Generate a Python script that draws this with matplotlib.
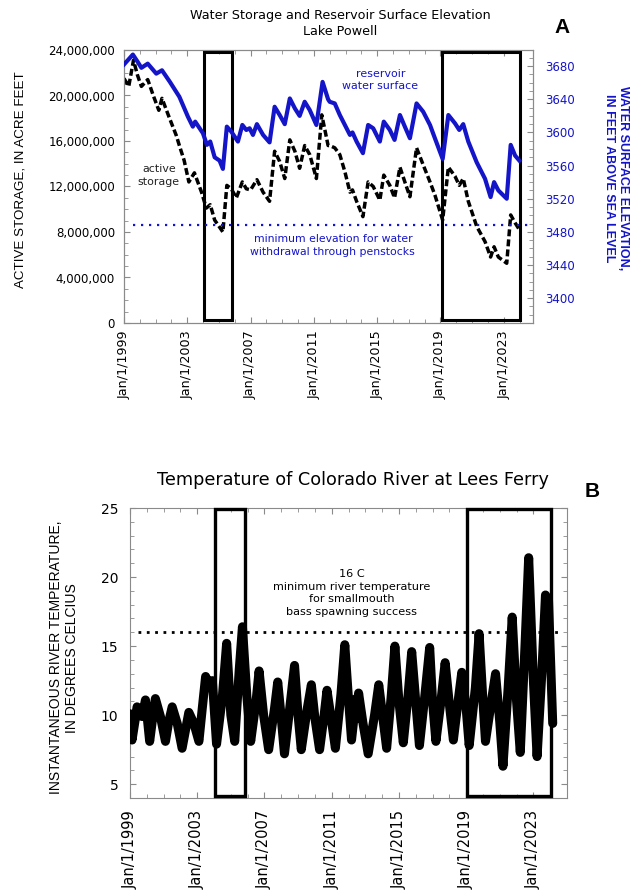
import matplotlib
matplotlib.use("Agg")
import matplotlib.pyplot as plt
import matplotlib.transforms as mtransforms
from matplotlib.patches import Rectangle
from matplotlib.ticker import MultipleLocator, FuncFormatter, FixedLocator

plt.rcParams['font.family'] = ['DejaVu Sans']
NARROW = ['Liberation Sans Narrow', 'Liberation Sans', 'DejaVu Sans']

BLUE = '#1414C8'
FRAME = '#8a8a8a'

# ---- Lake Powell: reservoir surface elevation (ft) ----
elev_year = [1999.0, 1999.56, 1999.87, 2000.1, 2000.5, 2001.04, 2001.4, 2001.9, 2002.5,
             2003.04, 2003.35, 2003.5, 2003.99, 2004.24, 2004.45, 2004.73, 2005.04, 2005.25,
             2005.5, 2005.78, 2006.2, 2006.48, 2006.73, 2006.94, 2007.15, 2007.4, 2007.79,
             2008.2, 2008.52, 2008.84, 2009.16, 2009.48, 2009.8, 2010.1, 2010.42, 2010.74,
             2011.16, 2011.55, 2011.9, 2012.0, 2012.32, 2012.64, 2012.96, 2013.28, 2013.44,
             2013.7, 2014.1, 2014.43, 2014.75, 2015.17, 2015.42, 2015.8, 2016.1, 2016.44,
             2016.75, 2017.07, 2017.49, 2017.91, 2018.34, 2018.65, 2019.14, 2019.5, 2019.92,
             2020.19, 2020.44, 2020.76, 2021.29, 2021.82, 2022.17, 2022.39, 2022.66, 2023.19,
             2023.44, 2023.72, 2023.99]
elev_ft = [3682, 3694, 3685, 3678, 3683, 3671, 3675, 3661, 3643,
           3619, 3607, 3613, 3599, 3585, 3589, 3570, 3566, 3556,
           3607, 3601, 3589, 3609, 3603, 3605, 3597, 3610, 3597,
           3588, 3631, 3621, 3610, 3641, 3629, 3620, 3637, 3627,
           3609, 3661, 3640, 3637, 3635, 3621, 3609, 3597, 3600,
           3589, 3575, 3609, 3605, 3589, 3613, 3603, 3591, 3621,
           3607, 3593, 3635, 3625, 3609, 3593, 3568, 3621, 3611,
           3603, 3610, 3589, 3564, 3544, 3522, 3540, 3530, 3520,
           3585, 3572, 3566]

# ---- Lake Powell: active storage (acre-feet) ----
stor_year = [1999.0, 1999.3, 1999.6, 1999.85, 2000.1, 2000.5, 2000.85, 2001.2, 2001.4,
             2001.85, 2002.3, 2002.5, 2002.8, 2003.1, 2003.45, 2003.9, 2004.2, 2004.45,
             2004.73, 2005.25, 2005.5, 2005.78, 2006.1, 2006.48, 2006.73, 2007.0, 2007.4,
             2007.79, 2008.2, 2008.52, 2008.84, 2009.16, 2009.48, 2009.8, 2010.1, 2010.42,
             2010.74, 2011.16, 2011.5, 2011.9, 2012.0, 2012.32, 2012.64, 2012.96, 2013.28,
             2013.44, 2013.7, 2014.1, 2014.43, 2014.75, 2015.17, 2015.42, 2015.8, 2016.1,
             2016.44, 2016.75, 2017.07, 2017.49, 2017.91, 2018.34, 2018.65, 2019.14, 2019.5,
             2019.92, 2020.19, 2020.44, 2020.76, 2021.29, 2021.82, 2022.17, 2022.39, 2022.66,
             2023.19, 2023.44, 2023.72, 2023.99]
stor_af = [21.5e6, 20.8e6, 23.1e6, 21.8e6, 20.8e6, 21.4e6, 20.0e6, 18.7e6, 19.75e6,
           18.1e6, 16.5e6, 15.6e6, 14.3e6, 12.4e6, 13.2e6, 11.5e6, 10.1e6, 10.4e6,
           9.05e6, 8.0e6, 12.1e6, 11.8e6, 11.0e6, 12.4e6, 11.8e6, 11.7e6, 12.6e6,
           11.5e6, 10.7e6, 15.1e6, 14.2e6, 12.7e6, 16.1e6, 15.1e6, 13.6e6, 15.6e6,
           14.8e6, 12.7e6, 18.3e6, 15.6e6, 15.6e6, 15.4e6, 14.8e6, 13.3e6, 11.5e6,
           11.7e6, 10.7e6, 9.35e6, 12.4e6, 12.0e6, 10.8e6, 13.0e6, 12.1e6, 11.0e6,
           13.7e6, 12.4e6, 11.1e6, 15.4e6, 13.9e6, 12.4e6, 11.25e6, 9.05e6, 13.7e6,
           12.9e6, 12.1e6, 12.7e6, 10.7e6, 8.5e6, 7.15e6, 5.8e6, 6.7e6, 5.8e6,
           5.25e6, 9.5e6, 8.8e6, 8.2e6]

min_power_elev = 3488

# ---- Colorado River at Lees Ferry: water temperature (deg C) ----
temp_year = [1999.0, 1999.12, 1999.3, 1999.42, 1999.72, 1999.92, 2000.17, 2000.35, 2000.51,
             2000.81, 2001.11, 2001.3, 2001.51, 2001.81, 2002.1, 2002.5, 2002.8, 2003.1,
             2003.3, 2003.5, 2003.7, 2003.9, 2004.15, 2004.5, 2004.75, 2005.0, 2005.23,
             2005.5, 2005.69, 2005.95, 2006.18, 2006.5, 2006.68, 2006.95, 2007.25, 2007.6,
             2007.79, 2008.0, 2008.19, 2008.55, 2008.79, 2009.0, 2009.19, 2009.55, 2009.79,
             2010.0, 2010.28, 2010.55, 2010.72, 2011.0, 2011.22, 2011.55, 2011.78, 2011.98,
             2012.18, 2012.45, 2012.55, 2012.6, 2012.85, 2013.17, 2013.55, 2013.8, 2014.27,
             2014.55, 2014.76, 2015.0, 2015.26, 2015.55, 2015.76, 2016.0, 2016.22, 2016.55,
             2016.83, 2017.0, 2017.2, 2017.5, 2017.75, 2018.0, 2018.24, 2018.5, 2018.74,
             2019.0, 2019.18, 2019.55, 2019.77, 2020.0, 2020.15, 2020.5, 2020.75, 2021.0,
             2021.19, 2021.5, 2021.74, 2022.0, 2022.22, 2022.5, 2022.72, 2023.0, 2023.22,
             2023.5, 2023.72, 2023.9, 2024.15]
temp_c = [10.1, 8.2, 9.6, 10.6, 9.9, 11.1, 8.1, 9.8, 11.2,
          9.9, 8.1, 9.5, 10.6, 9.4, 7.6, 10.2, 9.4, 8.1,
          10.5, 12.8, 12.2, 12.5, 7.9, 11.4, 15.2, 10.0, 8.1,
          13.3, 16.4, 11.4, 8.1, 11.0, 13.2, 10.0, 7.5, 10.5,
          12.4, 9.8, 7.2, 11.0, 13.6, 10.0, 7.5, 10.5, 12.2,
          9.8, 7.5, 10.0, 11.8, 9.5, 7.6, 11.5, 15.1, 11.5,
          8.2, 11.2, 9.8, 11.6, 9.5, 7.2, 10.0, 12.2, 7.6,
          11.5, 15.0, 11.0, 8.0, 11.5, 14.6, 11.0, 7.8, 11.5,
          14.9, 11.0, 8.1, 11.0, 13.8, 10.8, 8.2, 10.8, 13.1,
          10.5, 7.8, 12.0, 15.9, 11.0, 8.1, 11.0, 13.0, 9.5,
          6.3, 12.0, 17.1, 11.0, 7.3, 15.0, 21.4, 12.5, 7.0,
          13.0, 18.7, 18.3, 9.4]

spawn_temp = 16

# highlighted periods (low reservoir years)
periods = [(2004.05, 2005.85), (2019.07, 2024.05)]

year_ticks = [1999, 2003, 2007, 2011, 2015, 2019, 2023]
year_labels = ['Jan/1/%d' % y for y in year_ticks]


def style_frame(ax):
    for sp in ax.spines.values():
        sp.set_color(FRAME)
        sp.set_linewidth(0.8)


fig = plt.figure(figsize=(6.34, 8.96), dpi=100)

# ================= Panel A =================
ax1 = fig.add_axes([124 / 634, 1 - 323 / 896, (533 - 124) / 634, (323 - 50) / 896])
ax2 = ax1.twinx()

ax1.plot(stor_year, stor_af, color='black', lw=2.5, linestyle=(0, (2.0, 0.9)),
         solid_joinstyle='round', zorder=3)
ax2.plot(elev_year, elev_ft, color=BLUE, lw=3.0, solid_joinstyle='round', zorder=3)
ax2.plot([1999.6, 2024.85], [min_power_elev, min_power_elev], color=BLUE, lw=1.6,
         linestyle=(0, (1, 2.6)))

ax1.set_xlim(1999.0, 2024.85)
ax1.set_ylim(0, 24e6)
ax2.set_ylim(3370, 3699.5)

ax1.yaxis.set_major_locator(MultipleLocator(4e6))
ax1.yaxis.set_minor_locator(MultipleLocator(1e6))
ax1.yaxis.set_major_formatter(FuncFormatter(lambda v, p: '{:,.0f}'.format(v)))
ax2.yaxis.set_major_locator(FixedLocator([3400, 3440, 3480, 3520, 3560, 3600, 3640, 3680]))
ax2.yaxis.set_minor_locator(MultipleLocator(10))

ax1.xaxis.set_major_locator(FixedLocator(year_ticks))
ax1.xaxis.set_minor_locator(MultipleLocator(1))
ax1.set_xticklabels(year_labels, rotation=90, fontsize=9.2)

ax1.tick_params(axis='both', which='both', direction='in', color=FRAME, top=True)
ax1.tick_params(axis='both', which='major', length=4)
ax1.tick_params(axis='both', which='minor', length=3)
ax1.tick_params(axis='y', labelsize=8.5, pad=6.5)
ax1.tick_params(axis='x', pad=5.5)
ax2.tick_params(axis='y', which='both', direction='in', color=FRAME, labelcolor=BLUE,
                labelsize=8.5, pad=8.5)
ax2.tick_params(axis='y', which='major', length=4)
ax2.tick_params(axis='y', which='minor', length=3)
style_frame(ax1)
style_frame(ax2)

trans1 = mtransforms.blended_transform_factory(ax1.transData, ax1.transAxes)
for x0, x1 in periods:
    ax1.add_patch(Rectangle((x0, 0.01), x1 - x0, 0.982, transform=trans1, fill=False,
                            edgecolor='black', lw=2.2, zorder=5, clip_on=False))

ax2.text(2015.2, 3663, 'reservoir\nwater surface', color=BLUE, fontsize=7.9,
         ha='center', va='center', linespacing=1.3)
ax1.text(2001.2, 12.97e6, 'active\nstorage', color='#222222', fontsize=7.9,
         ha='center', va='center', linespacing=1.3)
ax1.text(2012.2, 6.8e6, 'minimum elevation for water\nwithdrawal through penstocks',
         color=BLUE, fontsize=7.8, ha='center', va='center', linespacing=1.3)

fig.text(0.032, 0.80, 'ACTIVE STORAGE, IN ACRE FEET', rotation=90, fontsize=9.6,
         ha='center', va='center', family=NARROW)
fig.text(0.972, 0.801, 'WATER SURFACE ELEVATION,\nIN FEET ABOVE SEA LEVEL', rotation=-90,
         fontsize=9.0, color=BLUE, fontweight='bold', ha='center', va='center',
         linespacing=1.2, family=NARROW)
fig.text(0.537, 0.974, 'Water Storage and Reservoir Surface Elevation\nLake Powell',
         fontsize=9.2, ha='center', va='center', linespacing=1.25)
fig.text(0.887, 0.969, 'A', fontsize=15, fontweight='bold', ha='center', va='center',
         family=['Liberation Sans', 'DejaVu Sans'])

# ================= Panel B =================
ax3 = fig.add_axes([130 / 634, 1 - 798 / 896, (567 - 130) / 634, (798 - 508) / 896])
ax3.plot(temp_year, temp_c, color='black', lw=6.5, solid_joinstyle='round',
         solid_capstyle='round', zorder=3)
ax3.plot([1999.5, 2024.75], [spawn_temp, spawn_temp], color='black', lw=2.0,
         linestyle=(0, (1, 2.0)))

ax3.set_xlim(1999.0, 2025.0)
ax3.set_ylim(4, 25)
ax3.yaxis.set_major_locator(FixedLocator([5, 10, 15, 20, 25]))
ax3.yaxis.set_minor_locator(MultipleLocator(1))
ax3.xaxis.set_major_locator(FixedLocator(year_ticks))
ax3.xaxis.set_minor_locator(MultipleLocator(1))
ax3.set_xticklabels(year_labels, rotation=90, fontsize=10.5)
ax3.tick_params(axis='both', which='both', direction='in', color=FRAME, top=True, right=True)
ax3.tick_params(axis='both', which='major', length=4)
ax3.tick_params(axis='both', which='minor', length=3)
ax3.tick_params(axis='y', labelsize=10, pad=8.5)
ax3.tick_params(axis='x', pad=8.5)
style_frame(ax3)

trans3 = mtransforms.blended_transform_factory(ax3.transData, ax3.transAxes)
for x0, x1 in periods:
    ax3.add_patch(Rectangle((x0, 0.008), x1 - x0, 0.99, transform=trans3, fill=False,
                            edgecolor='black', lw=2.4, zorder=5, clip_on=False))

ax3.text(2012.2, 18.85,
         '16 C\nminimum river temperature\nfor smallmouth\nbass spawning success',
         fontsize=8.1, ha='center', va='center', linespacing=1.3)

fig.text(0.101, 0.266, 'INSTANTANEOUS RIVER TEMPERATURE,\nIN DEGREES CELCIUS', rotation=90,
         fontsize=10.0, ha='center', va='center', linespacing=1.2, family=NARROW)
fig.text(0.556, 0.464, 'Temperature of Colorado River at Lees Ferry', fontsize=12.7,
         ha='center', va='center')
fig.text(0.934, 0.451, 'B', fontsize=15, fontweight='bold', ha='center', va='center',
         family=['Liberation Sans', 'DejaVu Sans'])

fig.savefig('out.png', dpi=100)
